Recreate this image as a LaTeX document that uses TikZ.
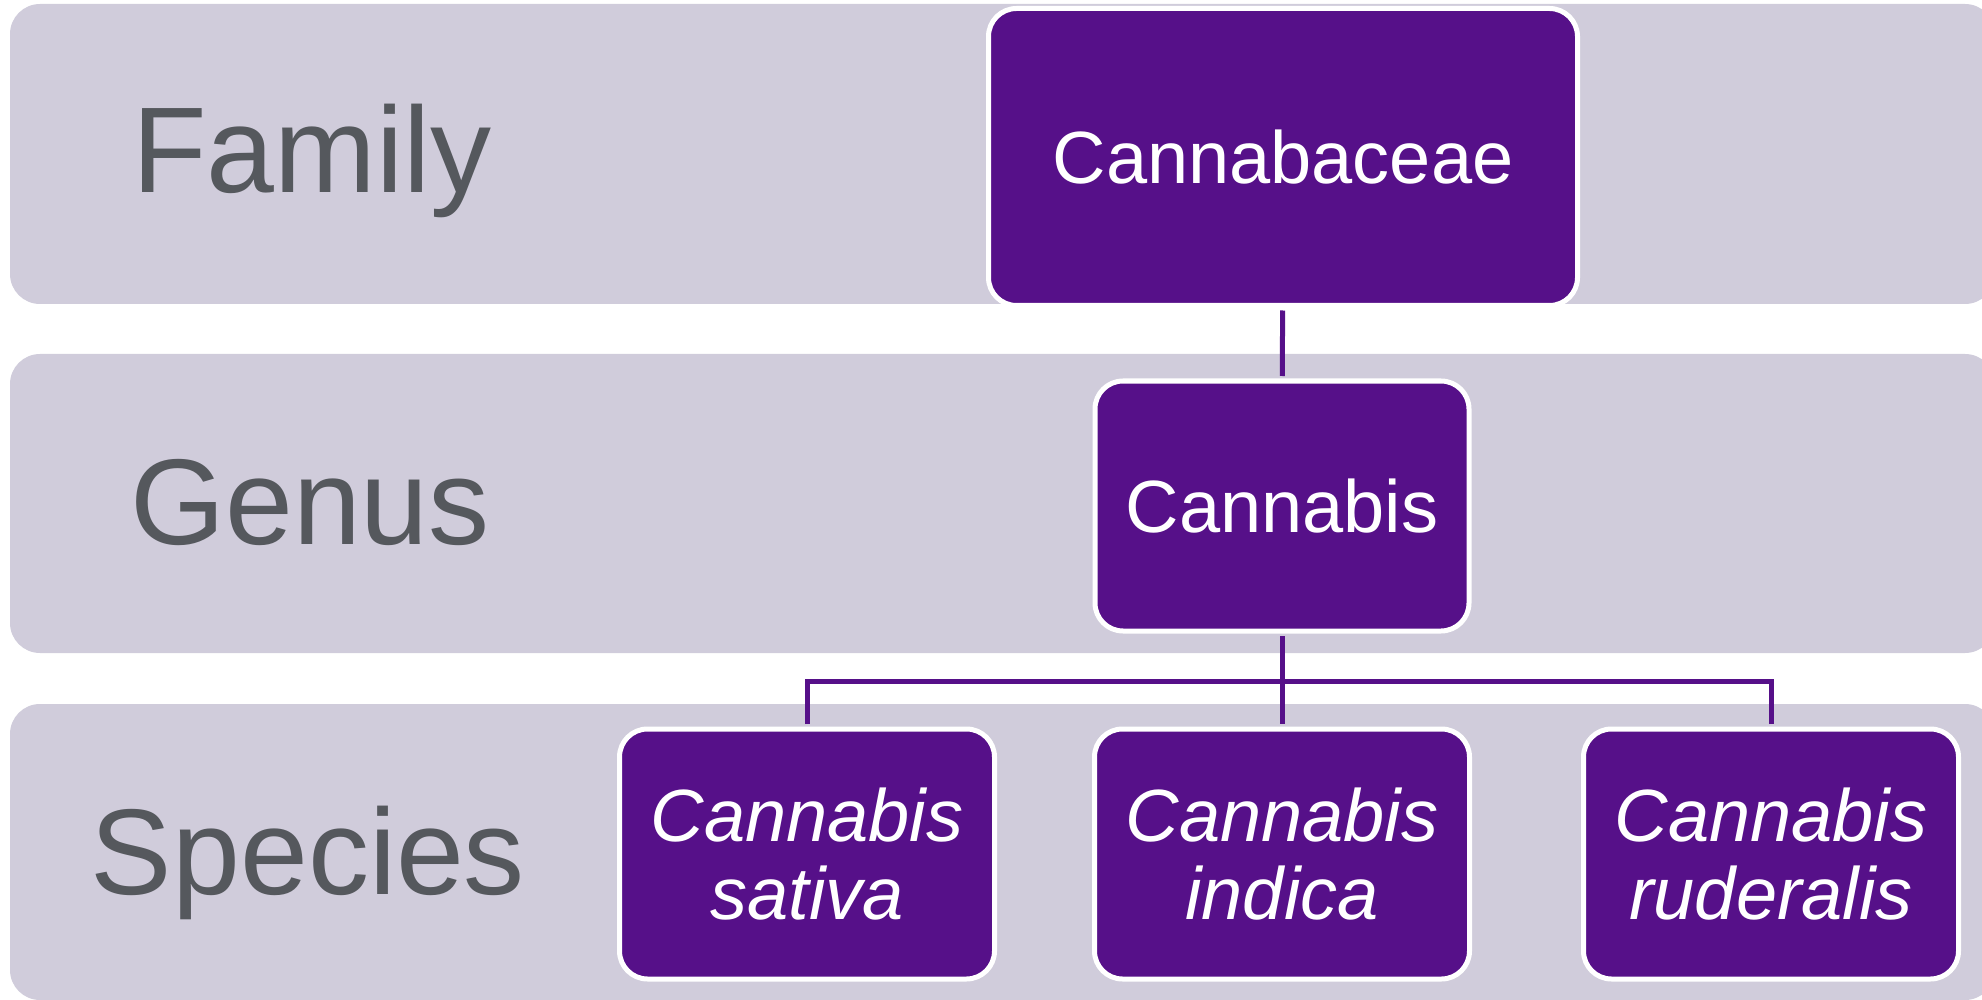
\documentclass[tikz,border=0pt]{standalone}
\usepackage{fontspec}
\setmainfont{Liberation Sans}
\definecolor{bandgray}{HTML}{D0CCDB}
\definecolor{taxonpurple}{HTML}{561089}
\definecolor{rankgray}{HTML}{55585D}

\begin{document}
\begin{tikzpicture}[x = 1pt, y = -1pt,
		band/.style = {fill = bandgray, rounded corners = 30pt},
		rank/.style = {text = rankgray, anchor = base, inner sep = 0pt,
			font = \fontsize{122}{130}\selectfont},
		taxon/.style = {fill = taxonpurple, draw = white, line width = 5pt,
			rounded corners = 28pt, text = white, align = center, inner sep = 0pt,
			font = \fontsize{74}{78}\selectfont},
		species/.style = {taxon, minimum width = 375pt, minimum height = 250pt,
			font = \fontsize{74}{78}\selectfont\itshape},
		link/.style = {draw = taxonpurple, line width = 5pt, line join = miter,
			shorten <= 2.5pt, shorten >= 2.5pt}]
		\clip (0,0) rectangle (1982,1000);
		% rank bands
		\fill[band] (10,4) rectangle (1995,304);
		\fill[band] (10,354) rectangle (1995,653);
		\fill[band] (10,704) rectangle (1995,1000);
		\node[rank] (family) at (312,193) {Family};
		\node[rank] (genus) at (310,544) {Genus};
		\node[rank] (species) at (308,894) {Species};
		% taxa
		\node[taxon, minimum width = 589pt, minimum height = 297pt] (cannabaceae) at (1283,157) {Cannabaceae};
		\node[taxon, minimum width = 374pt, minimum height = 250pt] (cannabis) at (1282,506) {Cannabis};
		\node[species] (sativa) at (807,854) {Cannabis\\sativa};
		\node[species] (indica) at (1282,854) {Cannabis\\indica};
		\node[species] (ruderalis) at (1771,854) {Cannabis\\ruderalis};
		\coordinate (bus) at (1282,681.5);
		% links
		\draw[link] (cannabaceae) -- (cannabis);
		\draw[link] (cannabis) -- (indica);
		\draw[link] (sativa.north) |- (bus) -| (ruderalis.north);
	\end{tikzpicture}
\end{document}
